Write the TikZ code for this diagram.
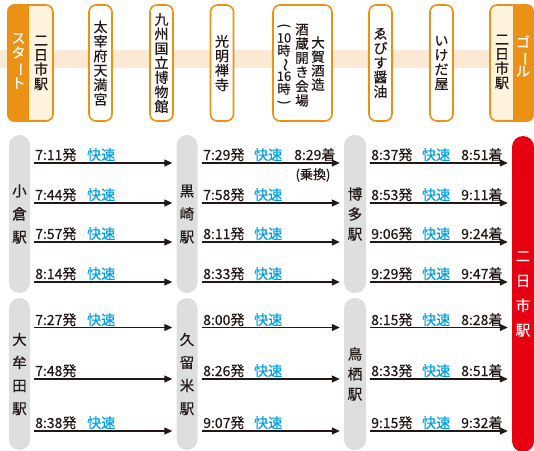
\documentclass[tikz,border=0pt]{standalone}
\usepackage{fontspec}
\setmainfont{Noto Sans CJK JP}[FakeBold=0.5]
\usetikzlibrary{arrows.meta}
\definecolor{arancio}{RGB}{235,146,22}
\definecolor{crema}{RGB}{255,243,222}
\definecolor{fascia}{RGB}{252,233,212}
\definecolor{grigio}{RGB}{221,222,222}
\definecolor{rosso}{RGB}{230,0,18}
\definecolor{azzurro}{RGB}{0,158,230}
\definecolor{scuro}{RGB}{35,24,21}

\begin{document}
\begin{tikzpicture}[x=1pt,y=-1pt,
		fermata/.style={draw=arancio, line width=1.6pt, rounded corners=7pt, fill=white, minimum width=23, minimum height=116, inner sep=0pt, align=center, text=scuro, font=\fontsize{14}{14.5}\selectfont},
		scritta/.style={inner sep=0pt, align=center, text=scuro, font=\fontsize{14}{14.5}\selectfont},
		stazione/.style={fill=grigio, rounded corners=10.5pt, minimum width=21, inner sep=0pt, align=center, text=scuro, font=\fontsize{14.5}{23}\selectfont},
		orario/.style={anchor=base west, inner sep=0pt, text=scuro, font=\fontsize{14}{14}\selectfont},
		rapido/.style={orario, text=azzurro},
		treno/.style={draw=scuro, line width=1.2pt, -{Triangle[length=8pt,width=7pt]}, shorten <=4pt, shorten >=4pt}]
		\useasboundingbox (0,0) rectangle (534,450);
		% Fascia del percorso
		\fill[fascia] (0,50) rectangle (534,68);
		% Partenza
		\node[fermata, fill=crema, minimum width=45] (partenza) at (30.5,63) {};
		\begin{scope}
			\clip (0,0) rectangle (29,130);
			\fill[arancio, rounded corners=7pt] (partenza.north west) rectangle (partenza.south east);
		\end{scope}
		\node[scritta, text=white] (start) at (18.5,61) {ス\\タ\\\rotatebox[origin=c]{-90}{ー}\\ト};
		\node[scritta] (start2) at (41,63) {二\\日\\市\\駅};
		% Fermate intermedie
		\node[fermata] (dazaifu) at (100.5,63) {太\\宰\\府\\天\\満\\宮};
		\node[fermata] (museo) at (161.5,63) {九\\州\\国\\立\\博\\物\\館};
		\node[fermata] (komyo) at (222,63) {光\\明\\禅\\寺};
		\node[fermata, minimum width=59] (oga) at (302.5,63) {};
		\node[scritta, font=\fontsize{13.5}{14}\selectfont] (oga1) at (318,63.5) {大\\賀\\酒\\造};
		\node[scritta, font=\fontsize{13.5}{14.2}\selectfont] (oga2) at (302,65) {酒\\蔵\\開\\き\\会\\場};
		\node[scritta, font=\fontsize{13}{12.8}\selectfont] (oga3) at (284,65) {\rotatebox[origin=c]{-90}{(}\\10\\時\\\rotatebox[origin=c]{-90}{～}\\16\\時\\\rotatebox[origin=c]{-90}{)}};
		\node[fermata] (ebisu) at (380.5,63) {ゑ\\び\\す\\醤\\油};
		\node[fermata] (ikeda) at (441.5,63) {い\\け\\だ\\屋};
		% Arrivo
		\node[fermata, fill=crema, minimum width=43] (arrivo) at (511.5,63) {};
		\begin{scope}
			\clip (513,0) rectangle (534,130);
			\fill[arancio, rounded corners=7pt] (arrivo.north west) rectangle (arrivo.south east);
		\end{scope}
		\node[scritta, text=white] (goal) at (523,56) {ゴ\\\rotatebox[origin=c]{-90}{ー}\\ル};
		\node[scritta] (goal2) at (502,62) {二\\日\\市\\駅};
		% Stazioni
		\node[stazione, minimum height=158] (kokura) at (19.5,214) {小\\倉\\駅};
		\node[stazione, minimum height=152] (omuta) at (19.5,374) {大\\牟\\田\\駅};
		\node[stazione, minimum height=158] (kurosaki) at (187,214) {黒\\崎\\駅};
		\node[stazione, minimum height=152] (kurume) at (187,374) {久\\留\\米\\駅};
		\node[stazione, minimum width=22, minimum height=158, font=\fontsize{14.5}{20}\selectfont] (hakata) at (355,214) {博\\多\\駅};
		\node[stazione, minimum width=22, minimum height=152, font=\fontsize{14.5}{20}\selectfont] (tosu) at (355,374) {鳥\\栖\\駅};
		\node[stazione, fill=rosso, text=white, minimum width=22, rounded corners=11pt, minimum height=316, font=\fontsize{14.5}{24.7}\selectfont] (futsukaichi) at (523,294) {二\\日\\市\\駅};
		% Kokura - Kurosaki
		\draw[treno] (kokura.east |- 0,163) -- (kurosaki.west |- 0,163);
		\draw[treno] (kokura.east |- 0,203) -- (kurosaki.west |- 0,203);
		\draw[treno] (kokura.east |- 0,242) -- (kurosaki.west |- 0,242);
		\draw[treno] (kokura.east |- 0,282) -- (kurosaki.west |- 0,282);
		\node[orario] (a1p) at (35,160) {7:11発};
		\node[rapido] (a1r) at (87,160) {快速};
		\node[orario] (a2p) at (35,200) {7:44発};
		\node[rapido] (a2r) at (87,200) {快速};
		\node[orario] (a3p) at (35,239) {7:57発};
		\node[rapido] (a3r) at (87,239) {快速};
		\node[orario] (a4p) at (35,279) {8:14発};
		\node[rapido] (a4r) at (87,279) {快速};
		% Kurosaki - Hakata
		\draw[treno] (kurosaki.east |- 0,163) -- (hakata.west |- 0,163);
		\draw[treno] (kurosaki.east |- 0,203) -- (hakata.west |- 0,203);
		\draw[treno] (kurosaki.east |- 0,242) -- (hakata.west |- 0,242);
		\draw[treno] (kurosaki.east |- 0,282) -- (hakata.west |- 0,282);
		\node[orario] (b1p) at (203,160) {7:29発};
		\node[rapido] (b1r) at (254,160) {快速};
		\node[orario] (b1a) at (294,160) {8:29着};
		\node[orario, anchor=center, font=\fontsize{13}{13}\selectfont] (cambio) at (313,175) {(乗換)};
		\node[orario] (b2p) at (203,200) {7:58発};
		\node[rapido] (b2r) at (254,200) {快速};
		\node[orario] (b3p) at (203,239) {8:11発};
		\node[rapido] (b3r) at (254,239) {快速};
		\node[orario] (b4p) at (203,279) {8:33発};
		\node[rapido] (b4r) at (254,279) {快速};
		% Hakata - Futsukaichi
		\draw[treno] (hakata.east |- 0,163) -- (futsukaichi.west |- 0,163);
		\draw[treno] (hakata.east |- 0,203) -- (futsukaichi.west |- 0,203);
		\draw[treno] (hakata.east |- 0,242) -- (futsukaichi.west |- 0,242);
		\draw[treno] (hakata.east |- 0,282) -- (futsukaichi.west |- 0,282);
		\node[orario] (c1p) at (371,160) {8:37発};
		\node[rapido] (c1r) at (422,160) {快速};
		\node[orario] (c1a) at (461,160) {8:51着};
		\node[orario] (c2p) at (371,200) {8:53発};
		\node[rapido] (c2r) at (422,200) {快速};
		\node[orario] (c2a) at (461,200) {9:11着};
		\node[orario] (c3p) at (371,239) {9:06発};
		\node[rapido] (c3r) at (422,239) {快速};
		\node[orario] (c3a) at (461,239) {9:24着};
		\node[orario] (c4p) at (371,279) {9:29発};
		\node[rapido] (c4r) at (422,279) {快速};
		\node[orario] (c4a) at (461,279) {9:47着};
		% Omuta - Kurume
		\draw[treno] (omuta.east |- 0,327.5) -- (kurume.west |- 0,327.5);
		\draw[treno] (omuta.east |- 0,379) -- (kurume.west |- 0,379);
		\draw[treno] (omuta.east |- 0,431) -- (kurume.west |- 0,431);
		\node[orario] (d1p) at (35,325) {7:27発};
		\node[rapido] (d1r) at (87,325) {快速};
		\node[orario] (d2p) at (35,376) {7:48発};
		\node[orario] (d3p) at (35,428) {8:38発};
		\node[rapido] (d3r) at (87,428) {快速};
		% Kurume - Tosu
		\draw[treno] (kurume.east |- 0,327.5) -- (tosu.west |- 0,327.5);
		\draw[treno] (kurume.east |- 0,379) -- (tosu.west |- 0,379);
		\draw[treno] (kurume.east |- 0,431) -- (tosu.west |- 0,431);
		\node[orario] (e1p) at (203,325) {8:00発};
		\node[rapido] (e1r) at (254,325) {快速};
		\node[orario] (e2p) at (203,376) {8:26発};
		\node[rapido] (e2r) at (254,376) {快速};
		\node[orario] (e3p) at (203,428) {9:07発};
		\node[rapido] (e3r) at (254,428) {快速};
		% Tosu - Futsukaichi
		\draw[treno] (tosu.east |- 0,327.5) -- (futsukaichi.west |- 0,327.5);
		\draw[treno] (tosu.east |- 0,379) -- (futsukaichi.west |- 0,379);
		\draw[treno] (tosu.east |- 0,431) -- (futsukaichi.west |- 0,431);
		\node[orario] (f1p) at (371,325) {8:15発};
		\node[rapido] (f1r) at (422,325) {快速};
		\node[orario] (f1a) at (461,325) {8:28着};
		\node[orario] (f2p) at (371,376) {8:33発};
		\node[rapido] (f2r) at (422,376) {快速};
		\node[orario] (f2a) at (461,376) {8:51着};
		\node[orario] (f3p) at (371,428) {9:15発};
		\node[rapido] (f3r) at (422,428) {快速};
		\node[orario] (f3a) at (461,428) {9:32着};
	\end{tikzpicture}
\end{document}
